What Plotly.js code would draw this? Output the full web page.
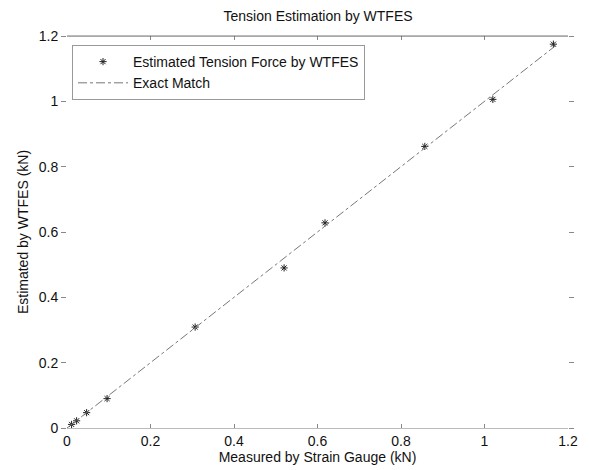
<!DOCTYPE html>
<html>
<head>
<meta charset="utf-8">
<script src="https://cdn.plot.ly/plotly-3.0.1.min.js"></script>
<style>html,body{margin:0;padding:0;background:#fff;}#chart{width:589px;height:470px;}</style>
</head>
<body>
<div id="chart"></div>
<script>
// Measured by strain gauge (kN)
const measured = [0.011, 0.023, 0.047, 0.096, 0.307, 0.52, 0.618, 0.857, 1.02, 1.165];
// Estimated by WTFES (kN)
const estimated = [0.011, 0.022, 0.047, 0.09, 0.309, 0.49, 0.628, 0.862, 1.006, 1.175];
// Exact match reference line
const exactX = [0, 1.17];
const exactY = [0, 1.17];
const tickVals = [0, 0.2, 0.4, 0.6, 0.8, 1, 1.2];
const tickText = ['0', '0.2', '0.4', '0.6', '0.8', '1', '1.2'];

const traces = [
  {
    x: measured, y: estimated, mode: 'markers', type: 'scatter',
    name: 'Estimated Tension Force by WTFES',
    marker: {symbol: 'asterisk-open', size: 6, color: '#222', line: {color: '#222', width: 1}}
  },
  {
    x: exactX, y: exactY, mode: 'lines', type: 'scatter',
    name: 'Exact Match',
    line: {color: '#777', width: 1, dash: 'dashdot'}
  }
];

const font = {family: 'Liberation Sans, Arial, sans-serif', size: 14, color: '#111'};
const layout = {
  width: 589, height: 470,
  margin: {l: 67, r: 21, t: 36, b: 42},
  paper_bgcolor: '#fff', plot_bgcolor: '#fff',
  font: font,
  showlegend: true,
  title: {text: 'Tension Estimation by WTFES', x: 0.54, xanchor: 'center', y: 0.977, yanchor: 'top', font: {family: font.family, size: 14, color: '#111'}},
  xaxis: {
    range: [0, 1.2], tickvals: tickVals, ticktext: tickText,
    showgrid: false, zeroline: false, showline: true, linecolor: '#bbb', linewidth: 1,
    mirror: 'ticks', ticks: 'inside', ticklen: 4, tickcolor: '#888',
    tickfont: {size: 14, color: '#111'},
    title: {text: 'Measured by Strain Gauge (kN)', standoff: 2, font: {size: 14, color: '#111'}}
  },
  yaxis: {
    range: [0, 1.2], tickvals: tickVals, ticktext: tickText,
    showgrid: false, zeroline: false, showline: false,
    mirror: 'ticks', ticks: 'outside', ticklen: 5, tickcolor: '#888',
    tickfont: {size: 14, color: '#111'},
    title: {text: 'Estimated by WTFES (kN)', standoff: 6, font: {size: 14, color: '#111'}}
  },
  shapes: [
    {type: 'line', xref: 'x', yref: 'y', x0: 0, x1: 1.2, y0: 1.2, y1: 1.2, line: {color: '#555', width: 1.2}}
  ],
  legend: {
    x: 0.01, y: 0.977, xanchor: 'left', yanchor: 'top',
    bgcolor: '#fff', bordercolor: '#999', borderwidth: 1,
    font: {size: 14, color: '#111'}, itemwidth: 50, tracegroupgap: 0
  }
};

Plotly.newPlot('chart', traces, layout, {displayModeBar: false, staticPlot: true});
</script>
</body>
</html>
